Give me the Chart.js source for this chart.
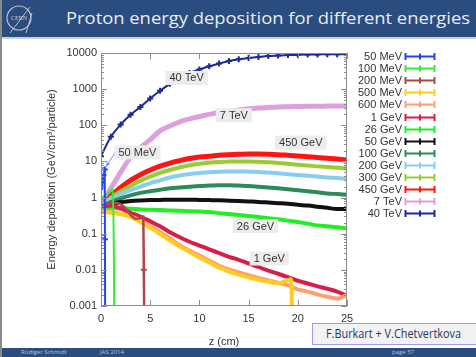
<!DOCTYPE html>
<html><head><meta charset="utf-8">
<script src="https://cdn.jsdelivr.net/npm/chart.js@4"></script>
<style>
html,body{margin:0;padding:0;background:#fff;}
#slide{position:relative;width:476px;height:357px;overflow:hidden;background:#fff;font-family:"Liberation Sans",Arial,sans-serif;}
#c{position:absolute;left:0;top:0;z-index:1;}
#topbar{position:absolute;left:0;top:0;width:476px;height:37px;background:#2b4c7e;z-index:2;border-bottom:2px solid #c9d0da;}
#title{position:absolute;left:66px;top:8px;font-family:"Open Sans",sans-serif;font-size:16px;line-height:20px;color:#e9edf3;white-space:nowrap;transform-origin:0 0;}
#logo{position:absolute;left:4px;top:3px;}
#leftb{position:absolute;left:0;top:0;width:2px;height:357px;background:#8a8a8a;z-index:3;}
#footer{position:absolute;left:0;top:348px;width:476px;height:9px;background:#2b4c7e;z-index:2;font-family:"Open Sans",sans-serif;font-size:6px;line-height:9px;color:#b9c4d8;}
#footer span{position:absolute;top:0;white-space:nowrap;}
#credit{position:absolute;left:312px;top:323px;width:170px;height:20px;background:#f2f2f2;border:1px solid #9a9aee;z-index:2;}
#credit span{position:absolute;left:13px;top:3px;font-family:"Open Sans",sans-serif;font-size:12px;line-height:14px;color:#1f3864;white-space:nowrap;transform-origin:0 0;}
</style></head>
<body>
<div id="slide">
  <canvas id="c" width="476" height="357"></canvas>
  <div id="topbar">
    <svg id="logo" width="32" height="32" viewBox="0 0 32 32">
      <ellipse cx="15" cy="15" rx="12" ry="12" fill="none" stroke="#b8bfcc" stroke-width="1.2"/>
      <text x="15" y="17" font-size="6" fill="#c8ced8" text-anchor="middle" font-family="Liberation Serif">CERN</text>
      <path d="M6 30 L26 4 M22 30 L28 10" stroke="#b8bfcc" stroke-width="1" fill="none"/>
    </svg>
    <div id="title">Proton energy deposition for different energies</div>
  </div>
  <div id="leftb"></div>
  <div id="credit"><span id="creditText">F.Burkart + V.Chetvertkova</span></div>
  <div id="footer"><span style="left:21px">Rüdiger Schmidt</span><span style="left:100px">JAS 2014</span><span style="left:392px">page 57</span></div>
</div>
<script>
// ---- data ----
const zGrid = [0,1,2,3,4,5,6,7,8,9,10,11,12,13,14,15,16,17,18,19,20,21,22,23,24,25];
const xTickValues = [0,5,10,15,20,25];
const yTickValues = [0.001,0.01,0.1,1,10,100,1000,10000];

const z50MeV = [0,0.1,0.2,0.3,0.38,0.4,0.42];
const e50MeV = [1.6,1.9,3.0,4.2,6.0,0.07,0.0005];
const z100MeV = [0,0.3,0.6,0.9,1.2,1.3,1.35];
const e100MeV = [1.0,1.1,1.25,1.45,1.75,0.05,0.0005];
const z200MeV = [0,0.5,1,1.5,2,2.5,3,3.5,4,4.3,4.35,4.4];
const e200MeV = [0.6,0.65,0.7,0.72,0.65,0.5,0.33,0.26,0.27,0.3,0.01,0.0005];
const z500MeV = [0,1,2,3,4,5,6,7,8,9,10,11,12,13,14,15,16,17,18,19,19.3,19.45];
const e500MeV = [0.4,0.38,0.35,0.29,0.21,0.145,0.098,0.066,0.044,0.031,0.022,0.016,0.0115,0.009,0.0074,0.0062,0.0053,0.0047,0.0043,0.0052,0.0055,0.0005];
const e600MeV = [0.42,0.4,0.36,0.3,0.23,0.16,0.11,0.075,0.048,0.034,0.025,0.018,0.013,0.0103,0.0085,0.0071,0.006,0.0051,0.0044,0.0037,0.0029,0.0025,0.0021,0.0018,0.0016,0.002];
const e1GeV = [0.55,0.6,0.5,0.38,0.3,0.22,0.16,0.11,0.08,0.06,0.047,0.037,0.029,0.023,0.019,0.015,0.012,0.0095,0.0078,0.0063,0.005,0.0042,0.0035,0.003,0.0025,0.0019];
const e26GeV = [0.45,0.52,0.5,0.49,0.47,0.46,0.45,0.44,0.43,0.42,0.41,0.4,0.37,0.35,0.33,0.31,0.29,0.27,0.25,0.23,0.21,0.19,0.17,0.16,0.15,0.14];
const e50GeV = [0.5,0.65,0.75,0.8,0.83,0.85,0.86,0.87,0.87,0.87,0.86,0.85,0.84,0.82,0.8,0.78,0.76,0.73,0.7,0.67,0.63,0.6,0.56,0.52,0.48,0.48];
const e100GeV = [0.55,0.75,0.95,1.15,1.35,1.5,1.65,1.8,1.9,2.0,2.1,2.15,2.2,2.2,2.15,2.1,2.0,1.9,1.8,1.7,1.6,1.5,1.4,1.3,1.25,1.2];
const e200GeV = [0.6,0.9,1.25,1.6,2.0,2.5,3.0,3.6,4.1,4.5,4.8,5.0,5.2,5.3,5.3,5.2,5.1,4.9,4.7,4.4,4.2,4.0,3.8,3.6,3.5,3.3];
const e300GeV = [0.6,1.0,1.5,2.1,2.9,3.8,4.8,5.8,6.8,7.8,8.6,9.2,9.6,9.9,10,10,9.8,9.5,9.1,8.6,8.1,7.7,7.3,7.0,6.7,6.4];
const e450GeV = [0.55,1.1,1.9,3.0,4.3,5.8,7.4,9.0,10.5,12,13.2,14,14.8,15.3,15.7,16,16,15.8,15.4,14.8,14.2,13.5,12.8,12.2,11.6,11];
const e7TeV = [0.6,1.8,5,13,24,40,70,95,125,150,175,200,230,250,265,285,300,310,320,325,330,335,335,340,340,340];
const e40TeV = [14,48,105,195,320,550,900,1400,2100,2800,3500,4300,5100,6000,6700,7300,7800,8200,8500,8800,9000,9100,9150,9200,9200,9200];

const annoTexts = ['40 TeV','7 TeV','450 GeV','50 MeV','26 GeV','1 GeV'];
const annoZ = [8.7,13.5,20.3,3.7,15.7,17.1];
const annoE = [2040,190,33,17.8,0.163,0.0206];
const arrowFrom = [1.63,21];
const arrowTo = [0.5,7.1];

const pts = (zs, es) => zs.map((z,i)=>({x:z, y:es[i]}));
const FONT = '"Liberation Sans", Arial, sans-serif';

function ds(label, zs, es, color, width, extra){
  return Object.assign({label, data: pts(zs,es), borderColor: color, backgroundColor: color,
    borderWidth: width, pointRadius: 0, cubicInterpolationMode:'monotone', fill:false}, extra||{});
}
const datasets = [
  ds('50 MeV', z50MeV, e50MeV, '#2244ff', 2, {pointRadius:[0,2.5,2.5,2.5,3,3,0], pointStyle:'cross', pointBorderWidth:2}),
  ds('100 MeV', z100MeV, e100MeV, '#33ee33', 2),
  ds('200 MeV', z200MeV, e200MeV, '#b04545', 2.5, {pointRadius:[0,0,0,0,0,0,0,0,0,0,3,0], pointStyle:'cross', pointBorderWidth:2}),
  ds('500 MeV', z500MeV, e500MeV, '#ffcc22', 4),
  ds('600 MeV', zGrid, e600MeV, '#ff9f70', 4),
  ds('1 GeV', zGrid, e1GeV, '#d81e46', 4),
  ds('26 GeV', zGrid, e26GeV, '#22ee22', 4),
  ds('50 GeV', zGrid, e50GeV, '#111111', 4),
  ds('100 GeV', zGrid, e100GeV, '#2e8b57', 4),
  ds('200 GeV', zGrid, e200GeV, '#87cdf0', 4),
  ds('300 GeV', zGrid, e300GeV, '#99cc33', 4),
  ds('450 GeV', zGrid, e450GeV, '#ff1414', 5),
  ds('7 TeV', zGrid, e7TeV, '#dda0dd', 5),
  ds('40 TeV', zGrid, e40TeV, '#1a2a99', 2, {pointRadius:3, pointStyle:'cross', pointBorderWidth:2})
];

const framePlugin = {
  id:'frame',
  afterDatasetsDraw(chart){
    const {ctx, chartArea:a, scales:{x,y}} = chart;
    ctx.save();
    ctx.strokeStyle = '#8c8c8c'; ctx.lineWidth = 1;
    ctx.strokeRect(a.left+0.5, a.top+0.5, a.right-a.left-1, a.bottom-a.top-1);
    ctx.beginPath();
    for (let d = 0.001; d < 10001; d *= 10) {
      const py = Math.round(y.getPixelForValue(d))+0.5;
      ctx.moveTo(a.left, py); ctx.lineTo(a.left+6, py);
      ctx.moveTo(a.right, py); ctx.lineTo(a.right-6, py);
      if (d < 10000) for (let k = 2; k <= 9; k++) {
        const pm = Math.round(y.getPixelForValue(k*d))+0.5;
        ctx.moveTo(a.left, pm); ctx.lineTo(a.left+3, pm);
        ctx.moveTo(a.right, pm); ctx.lineTo(a.right-3, pm);
      }
    }
    xTickValues.forEach(v=>{
      const px = Math.round(x.getPixelForValue(v))+0.5;
      ctx.moveTo(px, a.bottom); ctx.lineTo(px, a.bottom-6);
      ctx.moveTo(px, a.top); ctx.lineTo(px, a.top+6);
    });
    ctx.stroke();
    // annotations
    ctx.font = '11px ' + FONT; ctx.textAlign='center'; ctx.textBaseline='middle';
    // arrow
    const ax0 = x.getPixelForValue(arrowFrom[0]), ay0 = y.getPixelForValue(arrowFrom[1]);
    const ax1 = x.getPixelForValue(arrowTo[0]), ay1 = y.getPixelForValue(arrowTo[1]);
    ctx.strokeStyle = '#6f8cff'; ctx.fillStyle = '#6f8cff'; ctx.lineWidth = 1;
    ctx.beginPath(); ctx.moveTo(ax0, ay0); ctx.lineTo(ax1, ay1); ctx.stroke();
    const ang = Math.atan2(ay1-ay0, ax1-ax0);
    ctx.beginPath(); ctx.moveTo(ax1, ay1);
    ctx.lineTo(ax1 - 5*Math.cos(ang-0.4), ay1 - 5*Math.sin(ang-0.4));
    ctx.lineTo(ax1 - 5*Math.cos(ang+0.4), ay1 - 5*Math.sin(ang+0.4));
    ctx.closePath(); ctx.fill();
    annoTexts.forEach((t,i)=>{
      const cx = x.getPixelForValue(annoZ[i]), cy = y.getPixelForValue(annoE[i]);
      const w = ctx.measureText(t).width + 8, h = 14;
      ctx.fillStyle = '#ececec';
      ctx.fillRect(cx - w/2, cy - h/2, w, h);
      ctx.fillStyle = '#333333';
      ctx.fillText(t, cx, cy+0.5);
    });
    ctx.restore();
  }
};

const legendPlugin = {
  id:'sideLegend',
  afterDraw(chart){
    const ctx = chart.ctx; ctx.save();
    ctx.font = '11px ' + FONT; ctx.textAlign='right'; ctx.textBaseline='middle';
    chart.data.datasets.forEach((d,i)=>{
      const yy = Math.round(56 + i*12.1) + 0.5;
      ctx.fillStyle = '#333333'; ctx.fillText(d.label, 402, yy);
      ctx.strokeStyle = d.borderColor; ctx.lineWidth = 2;
      ctx.beginPath();
      ctx.moveTo(405, yy); ctx.lineTo(435, yy);
      ctx.moveTo(405.5, yy-3.5); ctx.lineTo(405.5, yy+3.5);
      ctx.moveTo(434.5, yy-3.5); ctx.lineTo(434.5, yy+3.5);
      ctx.moveTo(420, yy-3); ctx.lineTo(420, yy+3);
      ctx.stroke();
    });
    ctx.restore();
  }
};

new Chart(document.getElementById('c'), {
  type:'line',
  data:{datasets},
  options:{
    responsive:false, animation:false,
    layout:{padding:{left:0, top:53, right:129, bottom:0}},
    plugins:{legend:{display:false}, tooltip:{enabled:false}},
    scales:{
      x:{type:'linear', min:0, max:25,
        afterBuildTicks: s => { s.ticks = xTickValues.map(v=>({value:v})); },
        afterFit: s => { s.height = 51; },
        grid:{display:false, drawTicks:false}, border:{display:false},
        ticks:{padding:6, color:'#333', font:{family:FONT, size:11}},
        title:{display:true, text:'z (cm)', color:'#333', font:{family:FONT, size:11}, padding:{top:0,bottom:8.4}}
      },
      y:{type:'logarithmic', min:0.001, max:10000,
        afterBuildTicks: s => { s.ticks = yTickValues.map(v=>({value:v})); },
        afterFit: s => { s.width = 101; },
        grid:{display:false, drawTicks:false}, border:{display:false},
        ticks:{padding:4, color:'#333', font:{family:FONT, size:11}, callback: v => String(v)},
        title:{display:true, text:'Energy deposition (GeV/cm³/particle)', color:'#333', font:{family:FONT, size:11}, padding:{top:45.4,bottom:0}}
      }
    }
  },
  plugins:[framePlugin, legendPlugin]
});

function fit(id, target){
  const el = document.getElementById(id);
  const w = el.getBoundingClientRect().width;
  if (w > 0) el.style.transform = 'scaleX(' + (target/w) + ')';
}
fit('title', 404);
fit('creditText', 135);
</script>
</body></html>
